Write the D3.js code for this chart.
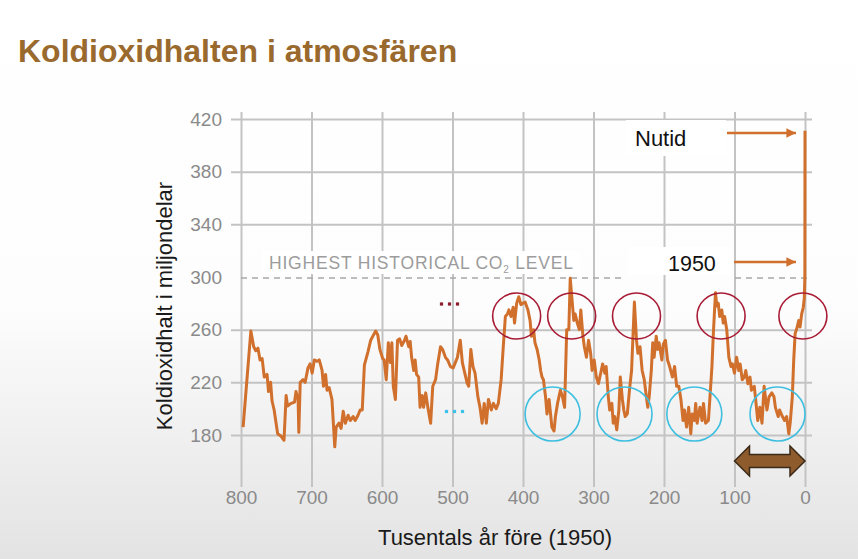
<!DOCTYPE html>
<html>
<head>
<meta charset="utf-8">
<script src="https://cdn.jsdelivr.net/npm/d3@7"></script>
<style>
  html, body { margin: 0; padding: 0; background: #fff; }
  svg { display: block; font-family: "Liberation Sans", Arial, Helvetica, sans-serif; }
</style>
</head>
<body>
<svg id="chart" width="858" height="559"></svg>
<script>
// ---- data ----
const ageKyr = [797,786,782,779,776,773,770,767,763,761,758,756,753,748,743,739,736,734,729,724,722,719,718,716,712,709,705,702,699,696,692,689,685,683,680,678,675,671,667,665,661,658,655,652,648,645,641,638,634,631,628,625,620,616,613,609,606,603,599,597,594,591,588,586,584,581,578,575,572,568,566,562,560,558,555,553,551,548,546,543,541,538,535,531,528,524,521,517,514,510,507,503,499,496,493,489,486,483,479,477,474,471,468,464,461,458,455,452,449,445,442,438,435,431,428,425,422,420,417,414,412,409,406,403,400,397,393,390,388,385,383,380,377,375,373,371,368,366,363,359,356,354,351,347,344,341,338,335,333,330,328,326,323,320,318,315,313,310,307,304,302,299,296,293,289,287,284,282,279,277,274,272,270,267,264,262,259,257,255,252,249,246,244,242,239,237,234,231,228,225,223,221,218,216,214,211,209,207,203,201,198,195,192,188,185,182,179,176,173,171,168,165,162,160,157,155,153,149,146,144,141,137,135,132,130,127,125,123,121,118,116,114,111,108,105,103,100,97,94,92,89,86,84,81,78,76,72,70,67,64,61,58,54,51,47,44,42,38,36,32,29,26,23,21,18,16,14,11,9,7,4.7,2.4,1,0.2,0];
const co2ppm = [186,259,247,244,246,237,238,224,226,213,220,206,199,181,179,176,210,202,204,205,213,207,182,220,222,220,231,234,227,237,236,237,229,217,226,214,216,207,171,186,189,185,198,189,195,191,194,191,195,199,199,233,243,252,255,259,256,245,238,237,222,250,235,250,217,207,252,253,248,252,255,247,251,239,229,237,226,224,201,210,201,212,201,189,217,222,234,247,245,239,237,232,231,235,239,252,235,228,219,217,245,232,227,209,201,189,204,189,207,199,204,200,204,222,247,270,272,275,270,277,265,280,285,279,280,281,275,267,255,260,250,245,237,229,224,222,209,196,207,186,183,194,204,214,209,201,260,260,299,280,267,272,265,260,275,255,247,239,252,242,229,237,224,219,229,234,227,232,209,199,204,189,194,184,199,224,207,199,194,196,214,229,255,281,252,242,247,229,222,209,201,209,229,250,239,255,245,250,237,249,252,237,232,224,232,217,217,207,191,199,186,201,181,196,191,204,189,201,191,204,189,191,207,232,257,288,278,280,270,275,265,270,260,239,232,234,227,239,229,234,222,224,229,219,224,214,217,207,191,201,189,217,199,209,212,209,201,194,199,194,191,194,181,189,209,237,257,262,267,262,272,277,284,300,411];

const xTicks = [800,700,600,500,400,300,200,100,0];
const yTicks = [180,220,260,300,340,380,420];
const titleText = "Koldioxidhalten i atmosfären";
const yLabel = "Koldioxidhalt i miljondelar";
const xLabel = "Tusentals år före (1950)";
const refLevel = 300;
const peakAges = [409, 331, 239, 119, 3];      // interglacial peaks (red rings)
const troughAges = [358, 256, 157, 39];        // glacial minima (blue rings)

// ---- layout ----
const svg = d3.select("#chart");
const x = d3.scaleLinear().domain([800, 0]).range([241, 805]);
const y = d3.scaleLinear().domain([180, 420]).range([435, 119]);

const defs = svg.append("defs");
const grad = defs.append("linearGradient").attr("id", "bg").attr("x1", 0).attr("y1", 0).attr("x2", 0).attr("y2", 1);
grad.append("stop").attr("offset", "0%").attr("stop-color", "#ffffff");
grad.append("stop").attr("offset", "55%").attr("stop-color", "#fdfdfd");
grad.append("stop").attr("offset", "100%").attr("stop-color", "#e3e3e3");
svg.append("rect").attr("width", 858).attr("height", 559).attr("fill", "url(#bg)");

// title
svg.append("text").attr("x", 18).attr("y", 62)
  .attr("font-size", 32).attr("font-weight", "bold").attr("fill", "#9a692d")
  .text(titleText);

const gridColor = "#c3c3c3";

// y axis with grid
const yAxis = svg.append("g").attr("transform", "translate(231,0)")
  .call(d3.axisLeft(y).tickValues(yTicks).tickSizeInner(-(812 - 231)).tickSizeOuter(0).tickPadding(9));
yAxis.select(".domain").remove();
yAxis.selectAll(".tick line").attr("stroke", gridColor).attr("stroke-width", 2)
  .filter(d => d === refLevel).remove();
yAxis.selectAll(".tick text").attr("font-size", 19).attr("fill", "#8a8a8a")
  .attr("font-family", "Liberation Sans, Arial, sans-serif");

// x axis with grid
const xAxis = svg.append("g").attr("transform", "translate(0,487)")
  .call(d3.axisBottom(x).tickValues(xTicks).tickSizeInner(-(487 - 112)).tickSizeOuter(0).tickPadding(3));
xAxis.select(".domain").remove();
xAxis.selectAll(".tick line").attr("stroke", gridColor).attr("stroke-width", 2);
xAxis.selectAll(".tick text").attr("font-size", 19).attr("fill", "#8a8a8a")
  .attr("font-family", "Liberation Sans, Arial, sans-serif");

// reference level dashed line
const yRef = y(refLevel) + 1;
svg.append("line").attr("x1", 241).attr("x2", 625).attr("y1", yRef).attr("y2", yRef)
  .attr("stroke", "#a8a8a8").attr("stroke-width", 1.6).attr("stroke-dasharray", "6,5");
svg.append("line").attr("x1", 735).attr("x2", 810).attr("y1", yRef).attr("y2", yRef)
  .attr("stroke", "#a8a8a8").attr("stroke-width", 1.6).attr("stroke-dasharray", "6,5");

// white boxes behind labels
svg.append("rect").attr("x", 262).attr("y", 251).attr("width", 318).attr("height", 23).attr("fill", "#fff");
svg.append("rect").attr("x", 626).attr("y", 120).attr("width", 100).attr("height", 36).attr("fill", "#fff");
svg.append("rect").attr("x", 628).attr("y", 247).attr("width", 104).attr("height", 28).attr("fill", "#fff");

// label "HIGHEST HISTORICAL CO2 LEVEL"
const hl = svg.append("text").attr("x", 269).attr("y", 269)
  .attr("font-size", 17.5).attr("fill", "#9c9c9c")
  .attr("textLength", 304).attr("lengthAdjust", "spacing");
hl.append("tspan").text("HIGHEST HISTORICAL CO");
hl.append("tspan").attr("font-size", 10).attr("dy", 4).text("2");
hl.append("tspan").attr("dy", -4).text(" LEVEL");

// the CO2 series
const pts = ageKyr.map((a, i) => [a, co2ppm[i]]);
svg.append("path").datum(pts)
  .attr("fill", "none").attr("stroke", "#d0702c").attr("stroke-width", 3)
  .attr("stroke-linejoin", "round")
  .attr("d", d3.line().x(d => x(d[0])).y(d => y(d[1])));

// rings
const ringY1 = 316, ringY2 = 414;
svg.selectAll(".red").data(peakAges).join("ellipse")
  .attr("cx", d => x(d)).attr("cy", ringY1).attr("rx", 24).attr("ry", 23)
  .attr("fill", "none").attr("stroke", "#a81c35").attr("stroke-width", 1.6);
svg.selectAll(".blue").data(troughAges).join("ellipse")
  .attr("cx", d => x(d)).attr("cy", ringY2).attr("rx", 27.5).attr("ry", 27)
  .attr("fill", "none").attr("stroke", "#3fbfe0").attr("stroke-width", 1.6);

// dots
[[441.5, 304, "#8e1b2c"], [446.5, 411.5, "#3cc2ea"]].forEach(([sx, sy, c]) => {
  [0, 8, 16].forEach(o => svg.append("rect").attr("x", sx + o - 1.6).attr("y", sy - 1.6)
    .attr("width", 3.2).attr("height", 3.2).attr("fill", c));
});

// arrows to Nutid / 1950
defs.append("marker").attr("id", "ah").attr("viewBox", "0 0 10 10").attr("refX", 10).attr("refY", 5)
  .attr("markerWidth", 6).attr("markerHeight", 4).attr("markerUnits", "strokeWidth").attr("orient", "auto")
  .append("path").attr("d", "M0,0 L10,5 L0,10 Z").attr("fill", "#d0702c");
svg.append("line").attr("x1", 727).attr("x2", 796).attr("y1", 133).attr("y2", 133)
  .attr("stroke", "#d0702c").attr("stroke-width", 2.4).attr("marker-end", "url(#ah)");
svg.append("line").attr("x1", 734).attr("x2", 796).attr("y1", 262).attr("y2", 262)
  .attr("stroke", "#d0702c").attr("stroke-width", 2.4).attr("marker-end", "url(#ah)");
svg.append("text").attr("x", 635).attr("y", 146).attr("font-size", 22).attr("fill", "#111").text("Nutid");
svg.append("text").attr("x", 668).attr("y", 271).attr("font-size", 21.5).attr("fill", "#111").text("1950");

// brown double arrow (last 100 kyr)
const ax0 = x(100), ax1 = x(0), ay = 461;
svg.append("path")
  .attr("d", `M${ax0},${ay} L${ax0 + 15},${ay - 15} L${ax0 + 15},${ay - 6.5} L${ax1 - 15},${ay - 6.5} L${ax1 - 15},${ay - 15} L${ax1},${ay} L${ax1 - 15},${ay + 15} L${ax1 - 15},${ay + 6.5} L${ax0 + 15},${ay + 6.5} L${ax0 + 15},${ay + 15} Z`)
  .attr("fill", "#8d5b2c").attr("stroke", "#3b2a18").attr("stroke-width", 1.5).attr("stroke-linejoin", "miter");

// axis titles
svg.append("text").attr("transform", "translate(172,306) rotate(-90)")
  .attr("text-anchor", "middle").attr("font-size", 22).attr("fill", "#1a1a1a").text(yLabel);
svg.append("text").attr("x", 495).attr("y", 545)
  .attr("text-anchor", "middle").attr("font-size", 22).attr("fill", "#1a1a1a").text(xLabel);
</script>
</body>
</html>
